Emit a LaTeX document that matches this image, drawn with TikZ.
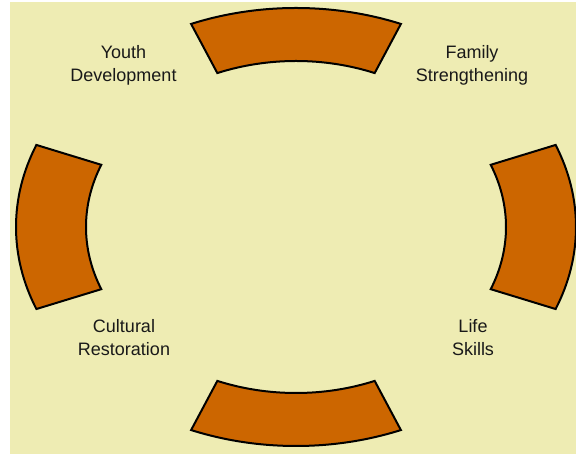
\documentclass[tikz,border=0pt]{standalone}
\usepackage{fontspec}
\setmainfont{Liberation Sans}
\usetikzlibrary{calc}
\definecolor{bgyellow}{RGB}{238,236,179}
\definecolor{segorange}{RGB}{204,102,0}
\begin{document}
\begin{tikzpicture}[x=1pt,y=1pt,
  segment/.style={draw=black, line width=2pt, fill=segorange, line join=miter},
  label/.style={align=center, text=black!90, font=\fontsize{18}{23}\selectfont, inner sep=0pt}]
\useasboundingbox (0,0) rectangle (576,454);
\fill[bgyellow] (10,0) rectangle (576,452);
\coordinate (c) at (296,227);
\foreach \a in {0,90,180,270} {
  \pgfmathsetmacro\s{\a-22}
  \pgfmathsetmacro\e{\a+22}
  \draw[segment] ($(c)+(\s:280pt and 219pt)$)
    arc[start angle=\s, end angle=\e, x radius=280pt, y radius=219pt]
    -- ($(c)+(\e:210pt and 166pt)$)
    arc[start angle=\e, end angle=\s, x radius=210pt, y radius=166pt]
    -- cycle;
}
\node[label] (youth) at (123.5,389) {Youth\\Development};
\node[label] (family) at (472,389) {Family\\Strengthening};
\node[label] (cultural) at (124,116) {Cultural\\Restoration};
\node[label] (life) at (473,116) {Life\\Skills};
\end{tikzpicture}
\end{document}
